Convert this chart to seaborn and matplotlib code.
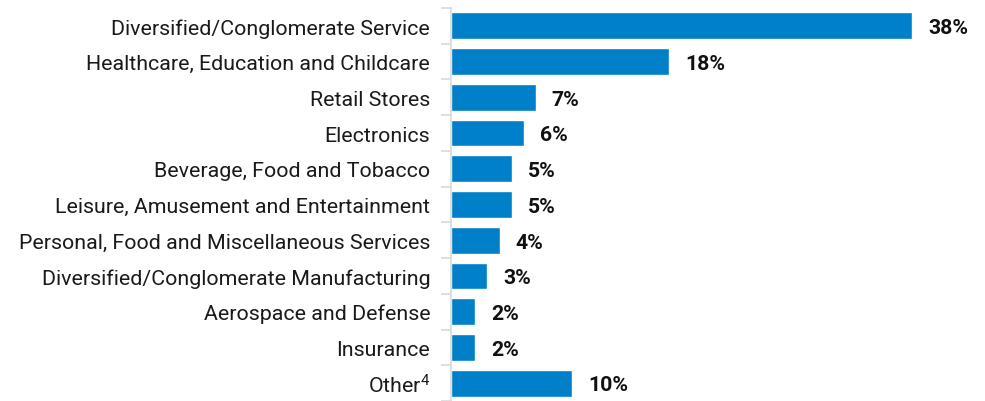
import matplotlib
matplotlib.use("Agg")
import matplotlib.pyplot as plt
import seaborn as sns
import pandas as pd
import numpy as np

industries = [
    "Diversified/Conglomerate Service",
    "Healthcare, Education and Childcare",
    "Retail Stores",
    "Electronics",
    "Beverage, Food and Tobacco",
    "Leisure, Amusement and Entertainment",
    "Personal, Food and Miscellaneous Services",
    "Diversified/Conglomerate Manufacturing",
    "Aerospace and Defense",
    "Insurance",
    "Other$^{4}$",
]
shares = [38, 18, 7, 6, 5, 5, 4, 3, 2, 2, 10]

sns.set_theme(style="white")
plt.rcParams["font.family"] = ["Roboto", "DejaVu Sans"]
plt.rcParams["mathtext.fontset"] = "custom"
plt.rcParams["mathtext.rm"] = "Roboto"
plt.rcParams["mathtext.it"] = "Roboto"

df = pd.DataFrame({"industry": industries, "share": shares})

fig = plt.figure(figsize=(9.85, 4.02), dpi=100)
ax = fig.add_axes([451 / 985, 0.0, 1 - 451 / 985, 1 - 9 / 402])

sns.barplot(data=df, x="share", y="industry", orient="h", color="#0080C8",
            saturation=1, width=0.75, ax=ax)

ax.set_xlim(0, 44)
ax.set_ylim(10.42, -0.5)

for i, v in enumerate(shares):
    ax.text(v + 1.3, i + 0.05, f"{v}%", va="center", ha="left",
            fontsize=15.3, fontweight="bold", color="#111111")

ax.set_xlabel("")
ax.set_ylabel("")
ax.set_xticks([])
for s in ["top", "right", "bottom"]:
    ax.spines[s].set_visible(False)
ax.spines["left"].set_color("#d9d9d9")
ax.spines["left"].set_linewidth(1.2)

ax.tick_params(axis="y", which="major", left=False, length=0, pad=15,
               labelsize=15.4, labelcolor="#1a1a1a")
ax.set_yticks(np.arange(-0.5, len(industries), 1.0), minor=True)
ax.tick_params(axis="y", which="minor", left=True, length=7, width=1.2,
               color="#d9d9d9", direction="out")

fig.savefig("out.png", dpi=100)
